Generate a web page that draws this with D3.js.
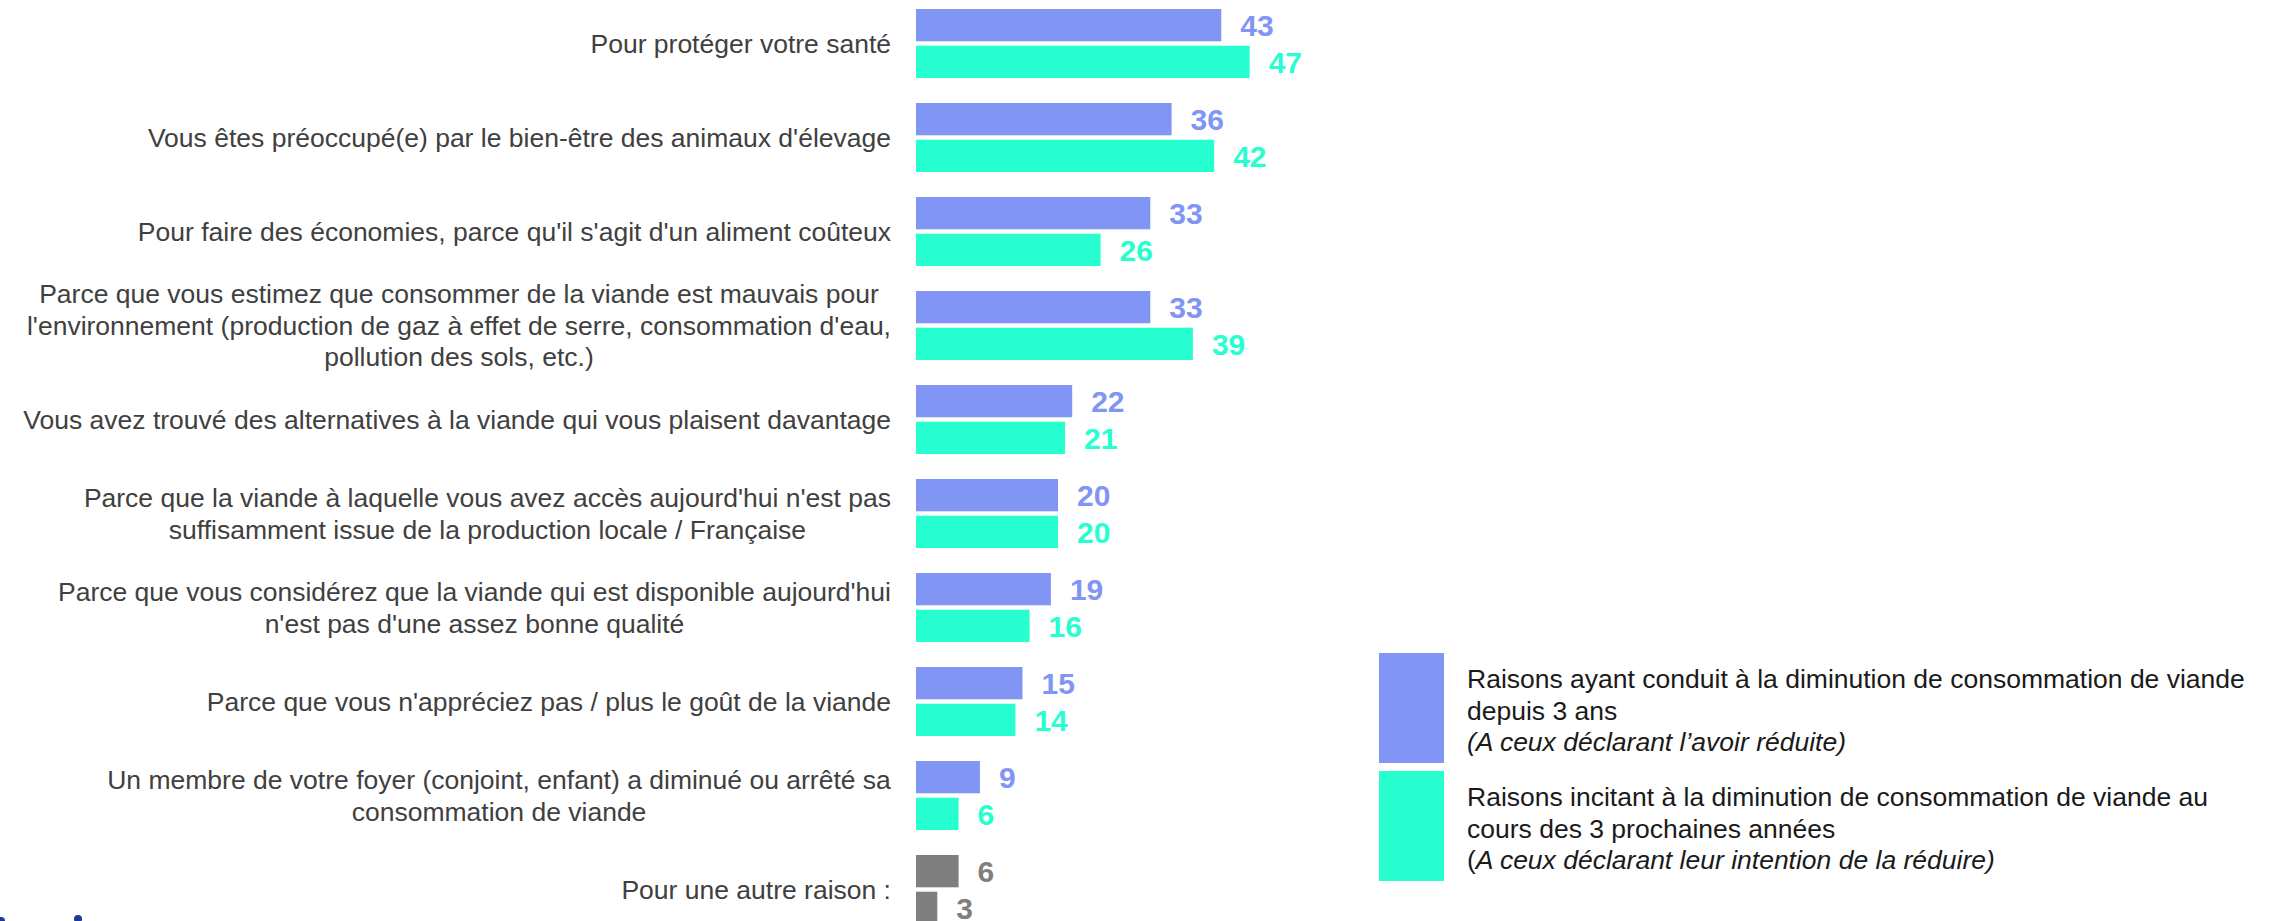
<!DOCTYPE html>
<html>
<head>
<meta charset="utf-8">
<script src="https://cdn.jsdelivr.net/npm/d3@7"></script>
<style>
  body { margin: 0; background: #fff; }
  svg { display: block; font-family: Arial, "Liberation Sans", sans-serif; }
</style>
</head>
<body>
<svg width="2269" height="921"></svg>
<script>
// categories (line breaks as in the original slide)
const categories = [
  "Pour protéger votre santé",
  "Vous êtes préoccupé(e) par le bien-être des animaux d'élevage",
  "Pour faire des économies, parce qu'il s'agit d'un aliment coûteux",
  "Parce que vous estimez que consommer de la viande est mauvais pour\nl'environnement (production de gaz à effet de serre, consommation d'eau,\npollution des sols, etc.)",
  "Vous avez trouvé des alternatives à la viande qui vous plaisent davantage",
  "Parce que la viande à laquelle vous avez accès aujourd'hui n'est pas\nsuffisamment issue de la production locale / Française",
  "Parce que vous considérez que la viande qui est disponible aujourd'hui\nn'est pas d'une assez bonne qualité",
  "Parce que vous n'appréciez pas / plus le goût de la viande",
  "Un membre de votre foyer (conjoint, enfant) a diminué ou arrêté sa\nconsommation de viande",
  "Pour une autre raison :"
];

// series values (%)
const pastValues = [43, 36, 33, 33, 22, 20, 19, 15, 9, 6];
const futureValues = [47, 42, 26, 39, 21, 20, 16, 14, 6, 3];

const seriesKeys = ["past", "future"];
const legendLabels = [
  ["Raisons ayant conduit à la diminution de consommation de viande", "depuis 3 ans", "(A ceux déclarant l’avoir réduite)"],
  ["Raisons incitant à la diminution de consommation de viande au", "cours des 3 prochaines années", "(A ceux déclarant leur intention de la réduire)"]
];

const colors = { past: "#8195f5", future: "#28ffd0", other: "#7f7f7f" };

const svg = d3.select("svg");
const fontSize = 26.5;
const lineH = 31.5;

// scales
const x = d3.scaleLinear().domain([0, 50]).range([916, 916 + 355]);

const y0 = d3.scaleBand()
  .domain(categories)
  .range([9, 9 + 94 * categories.length - 25])
  .paddingInner(25 / 94)
  .paddingOuter(0);

const y1 = d3.scaleBand()
  .domain(seriesKeys)
  .range([0, y0.bandwidth()])
  .paddingInner(0.12);

const rows = categories.map((c, i) => ({
  cat: c,
  other: i === categories.length - 1,
  values: [
    { key: "past", value: pastValues[i] },
    { key: "future", value: futureValues[i] }
  ]
}));

const groups = svg.selectAll("g.row")
  .data(rows)
  .join("g")
  .attr("class", "row")
  .attr("transform", d => `translate(0,${y0(d.cat)})`);

// bars
groups.selectAll("rect")
  .data(d => d.values.map(v => ({ ...v, other: d.other })))
  .join("rect")
  .attr("x", x(0))
  .attr("y", d => y1(d.key))
  .attr("width", d => x(d.value) - x(0))
  .attr("height", y1.bandwidth())
  .attr("fill", d => d.other ? colors.other : colors[d.key]);

// value labels
groups.selectAll("text.val")
  .data(d => d.values.map(v => ({ ...v, other: d.other })))
  .join("text")
  .attr("class", "val")
  .attr("x", d => x(d.value) + 19)
  .attr("y", d => y1(d.key) + y1.bandwidth() / 2)
  .attr("dy", "0.36em")
  .attr("font-size", 30)
  .attr("font-weight", "bold")
  .attr("fill", d => d.other ? colors.other : colors[d.key])
  .text(d => d.value);

// category labels: lines centred on each other, block right-aligned next to the bars
groups.append("text")
  .attr("class", "cat")
  .attr("text-anchor", "middle")
  .attr("font-size", fontSize)
  .attr("fill", "#404040")
  .each(function(d) {
    const lines = d.cat.split("\n");
    const mid = y0.bandwidth() / 2;
    const t = d3.select(this);
    lines.forEach((ln, j) => {
      t.append("tspan")
        .attr("x", 0)
        .attr("y", mid + (j - (lines.length - 1) / 2) * lineH)
        .attr("dy", "0.35em")
        .text(ln);
    });
    const w = this.getBBox().width;
    t.selectAll("tspan").attr("x", 891 - w / 2);
  });

// legend
const legend = svg.selectAll("g.legend")
  .data(seriesKeys)
  .join("g")
  .attr("class", "legend")
  .attr("transform", (d, i) => `translate(1379,${653 + i * 118})`);

legend.append("rect")
  .attr("width", 65)
  .attr("height", 110)
  .attr("fill", d => colors[d]);

legend.each(function(d, i) {
  const g = d3.select(this);
  const lines = legendLabels[i];
  lines.forEach((ln, j) => {
    const t = g.append("text")
      .attr("x", 88)
      .attr("y", 26 + j * lineH)
      .attr("dy", "0.35em")
      .attr("font-size", fontSize)
      .attr("fill", "#1a1a1a");
    if (j === 2) {
      if (i === 0) {
        t.append("tspan").attr("font-style", "italic").text(ln);
      } else {
        t.append("tspan").text("(");
        t.append("tspan").attr("font-style", "italic").text(ln.slice(1));
      }
    } else {
      t.text(ln);
    }
  });
});

// logo fragment at the bottom-left corner
svg.append("g")
  .selectAll("circle")
  .data([{ cx: 1, cy: 921 }, { cx: 78, cy: 919 }])
  .join("circle")
  .attr("cx", d => d.cx)
  .attr("cy", d => d.cy)
  .attr("r", 4)
  .attr("fill", "#1d3a9a");
</script>
</body>
</html>
